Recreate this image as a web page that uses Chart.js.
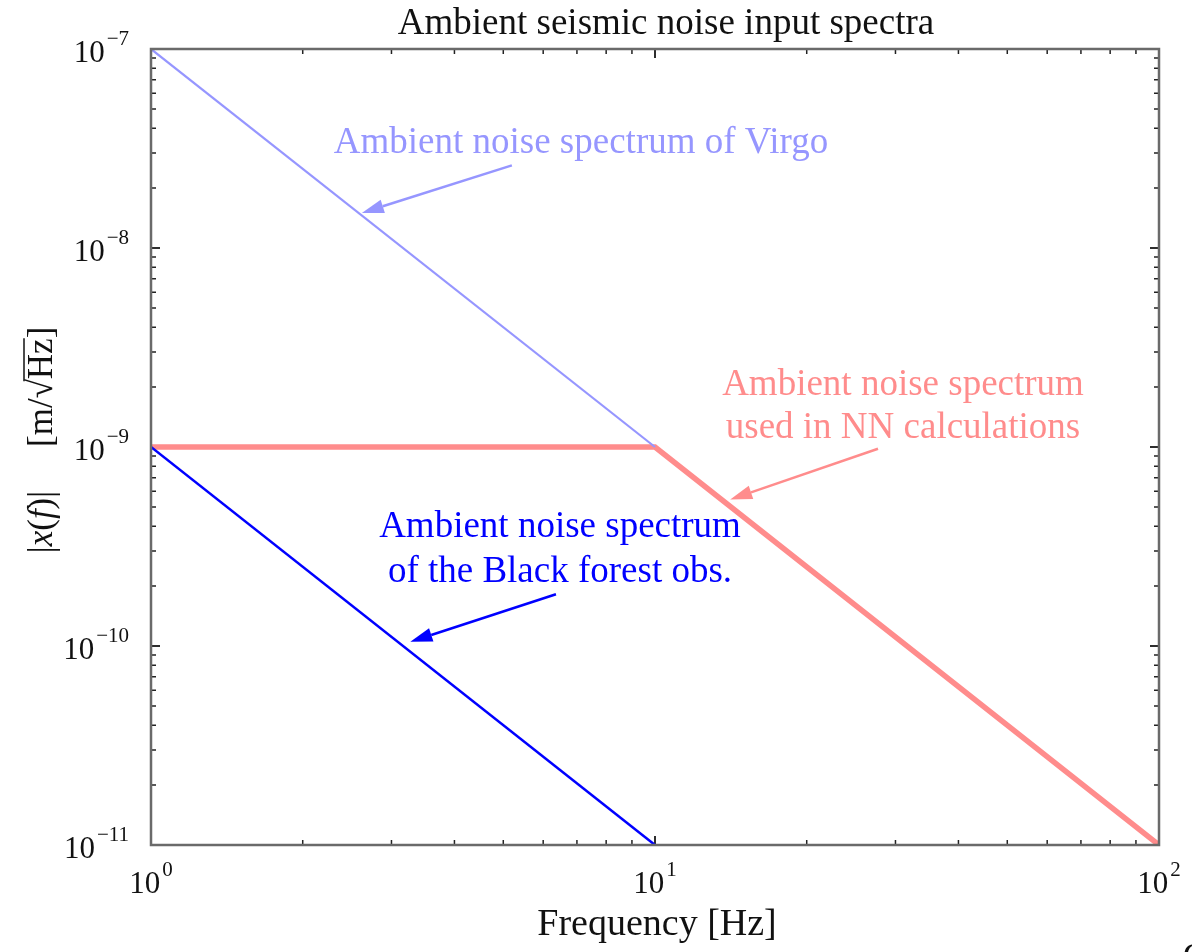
<!DOCTYPE html>
<html>
<head>
<meta charset="utf-8">
<script src="https://cdn.jsdelivr.net/npm/chart.js@4/dist/chart.umd.min.js"></script>
<style>
  html, body { margin: 0; padding: 0; background: #fff; }
  #wrap { width: 1192px; height: 952px; }
</style>
</head>
<body>
<div id="wrap"><canvas id="c" width="1192" height="952"></canvas></div>
<script>
// series (frequency in Hz, amplitude in m/sqrt(Hz))
const virgoFreq = [1, 10];
const virgoAmp = [1e-7, 1e-9];
const nnFreq = [1, 10, 100];
const nnAmp = [1e-9, 1e-9, 1e-11];
const forestFreq = [1, 10];
const forestAmp = [1e-9, 1e-11];

const xTickExp = [0, 1, 2];
const yTickExp = [-11, -10, -9, -8, -7];

// arrows: [tailX, tailY, tipX, tipY] in data units
const virgoArrow = [5.2, 2.6e-8, 2.62, 1.50e-8];
const nnArrow = [27.7, 9.8e-10, 14.1, 5.45e-10];
const forestArrow = [6.36, 1.82e-10, 3.27, 1.05e-10];

const SERIF = '"Liberation Serif", "DejaVu Serif", serif';
const VIRGO_COL = 'rgb(150,150,255)';
const NN_COL = 'rgb(255,140,140)';
const FOREST_COL = 'rgb(0,0,255)';

function pts(xs, ys) {
  return xs.map((x, i) => ({ x: x, y: ys[i] }));
}

function drawArrow(ctx, xs, ys, a, col) {
  const x0 = xs.getPixelForValue(a[0]), y0 = ys.getPixelForValue(a[1]);
  const x1 = xs.getPixelForValue(a[2]), y1 = ys.getPixelForValue(a[3]);
  const ang = Math.atan2(y1 - y0, x1 - x0);
  const hl = 22, hw = 7;
  ctx.save();
  ctx.strokeStyle = col;
  ctx.fillStyle = col;
  ctx.lineWidth = 2.5;
  ctx.beginPath();
  ctx.moveTo(x0, y0);
  ctx.lineTo(x1 - hl * Math.cos(ang), y1 - hl * Math.sin(ang));
  ctx.stroke();
  ctx.beginPath();
  ctx.moveTo(x1, y1);
  ctx.lineTo(x1 - hl * Math.cos(ang) + hw * Math.sin(ang), y1 - hl * Math.sin(ang) - hw * Math.cos(ang));
  ctx.lineTo(x1 - hl * Math.cos(ang) - hw * Math.sin(ang), y1 - hl * Math.sin(ang) + hw * Math.cos(ang));
  ctx.closePath();
  ctx.fill();
  ctx.restore();
}

// "10" with a raised exponent; align = 'right' or 'center'
function powLabel(ctx, exp, x, y, align) {
  const base = '10';
  const sup = String(exp).replace('-', '\u2212');
  ctx.font = '31px ' + SERIF;
  const wb = ctx.measureText(base).width;
  ctx.font = '21px ' + SERIF;
  const ws = ctx.measureText(sup).width;
  let left = align === 'right' ? x - wb - ws - 2 : x - (wb + ws + 2) / 2;
  ctx.textAlign = 'left';
  ctx.textBaseline = 'alphabetic';
  ctx.font = '31px ' + SERIF;
  ctx.fillText(base, left, y);
  ctx.font = '21px ' + SERIF;
  ctx.fillText(sup, left + wb + 2, y - 17);
}

const decor = {
  id: 'decor',
  beforeDatasetsDraw(chart) {
    const ctx = chart.ctx, a = chart.chartArea;
    const xs = chart.scales.x, ys = chart.scales.y;
    ctx.save();
    ctx.strokeStyle = '#222';
    ctx.lineWidth = 1.5;
    // minor and major ticks, pointing inward on all four sides
    for (let d = 0; d < 2; d++) {
      for (let m = 1; m <= 10; m++) {
        const v = m * Math.pow(10, d);
        const px = xs.getPixelForValue(v);
        const len = (m === 1 || m === 10) ? 9 : 5;
        ctx.beginPath();
        ctx.moveTo(px, a.bottom); ctx.lineTo(px, a.bottom - len);
        ctx.moveTo(px, a.top); ctx.lineTo(px, a.top + len);
        ctx.stroke();
      }
    }
    for (let d = -11; d < -7; d++) {
      for (let m = 1; m <= 10; m++) {
        const v = m * Math.pow(10, d);
        const py = ys.getPixelForValue(v);
        const len = (m === 1 || m === 10) ? 9 : 5;
        ctx.beginPath();
        ctx.moveTo(a.left, py); ctx.lineTo(a.left + len, py);
        ctx.moveTo(a.right, py); ctx.lineTo(a.right - len, py);
        ctx.stroke();
      }
    }
    ctx.restore();
  },
  afterDraw(chart) {
    const ctx = chart.ctx, a = chart.chartArea;
    const xs = chart.scales.x, ys = chart.scales.y;
    ctx.save();

    // frame
    ctx.strokeStyle = '#6a6a6a';
    ctx.lineWidth = 2.5;
    ctx.strokeRect(a.left, a.top, a.right - a.left, a.bottom - a.top);

    // tick labels
    ctx.fillStyle = '#111';
    yTickExp.forEach(e => {
      powLabel(ctx, e, a.left - 22, ys.getPixelForValue(Math.pow(10, e)) + 13, 'right');
    });
    xTickExp.forEach(e => {
      powLabel(ctx, e, xs.getPixelForValue(Math.pow(10, e)), a.bottom + 48, 'center');
    });

    // title and axis titles
    ctx.textAlign = 'center';
    ctx.textBaseline = 'alphabetic';
    ctx.font = '37px ' + SERIF;
    ctx.fillText('Ambient seismic noise input spectra', 666, 34);
    ctx.font = '38px ' + SERIF;
    ctx.fillText('Frequency [Hz]', 657, 935);

    // y axis title: |x(f)|   [m/√Hz]
    ctx.save();
    ctx.translate(52, 440);
    ctx.rotate(-Math.PI / 2);
    const parts = [
      ['|', 'normal'], ['x', 'italic'], ['(', 'normal'], ['f', 'italic'], [')|', 'normal'],
      ['     [m/', 'normal'], ['\u221A', 'normal'], ['Hz', 'normal'], [']', 'normal']
    ];
    const fs = 35;
    let total = 0;
    parts.forEach(p => { ctx.font = p[1] + ' ' + fs + 'px ' + SERIF; total += ctx.measureText(p[0]).width; });
    let cx = -total / 2;
    ctx.textAlign = 'left';
    ctx.fillStyle = '#111';
    parts.forEach(p => {
      ctx.font = p[1] + ' ' + fs + 'px ' + SERIF;
      const w = ctx.measureText(p[0]).width;
      ctx.fillText(p[0], cx, 0);
      if (p[0] === 'Hz') {
        ctx.lineWidth = 1.5;
        ctx.strokeStyle = '#111';
        ctx.beginPath();
        ctx.moveTo(cx - 2, -28); ctx.lineTo(cx + w, -28);
        ctx.stroke();
      }
      cx += w;
    });
    ctx.restore();

    // annotations
    ctx.font = '37px ' + SERIF;
    ctx.textAlign = 'center';
    ctx.fillStyle = VIRGO_COL;
    ctx.fillText('Ambient noise spectrum of Virgo', 581, 153);
    ctx.fillStyle = NN_COL;
    ctx.fillText('Ambient noise spectrum', 903, 395);
    ctx.fillText('used in NN calculations', 903, 438);
    ctx.fillStyle = FOREST_COL;
    ctx.fillText('Ambient noise spectrum', 560, 537);
    ctx.fillText('of the Black forest obs.', 560, 582);

    drawArrow(ctx, xs, ys, virgoArrow, VIRGO_COL);
    drawArrow(ctx, xs, ys, nnArrow, NN_COL);
    drawArrow(ctx, xs, ys, forestArrow, FOREST_COL);

    // clipped glyph at the lower right edge
    ctx.fillStyle = '#111';
    ctx.textAlign = 'left';
    ctx.font = '34px ' + SERIF;
    ctx.fillText('C', 1183, 966);

    ctx.restore();
  }
};

new Chart(document.getElementById('c'), {
  type: 'scatter',
  data: {
    datasets: [
      {
        label: 'Ambient noise spectrum used in NN calculations',
        data: pts(nnFreq, nnAmp),
        showLine: true,
        borderColor: NN_COL,
        borderWidth: 5.5,
        pointRadius: 0,
        order: 3
      },
      {
        label: 'Ambient noise spectrum of Virgo',
        data: pts(virgoFreq, virgoAmp),
        showLine: true,
        borderColor: VIRGO_COL,
        borderWidth: 2.2,
        pointRadius: 0,
        order: 2
      },
      {
        label: 'Ambient noise spectrum of the Black forest obs.',
        data: pts(forestFreq, forestAmp),
        showLine: true,
        borderColor: FOREST_COL,
        borderWidth: 2.5,
        pointRadius: 0,
        order: 1
      }
    ]
  },
  options: {
    responsive: false,
    animation: false,
    layout: { padding: { left: 151, right: 33, top: 49, bottom: 107 } },
    plugins: {
      legend: { display: false },
      tooltip: { enabled: false },
      title: { display: false }
    },
    scales: {
      x: {
        type: 'logarithmic',
        min: 1,
        max: 100,
        display: false
      },
      y: {
        type: 'logarithmic',
        min: 1e-11,
        max: 1e-7,
        display: false
      }
    }
  },
  plugins: [decor]
});
</script>
</body>
</html>
